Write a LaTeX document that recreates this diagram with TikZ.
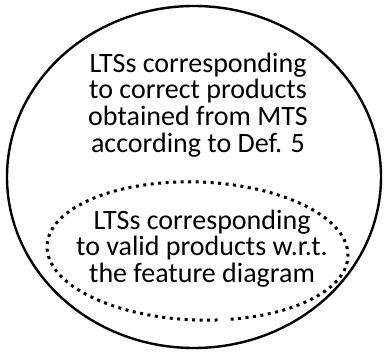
\documentclass[tikz,border=0pt]{standalone}
\usepackage{fontspec}
\setmainfont{Carlito}
\begin{document}
\begin{tikzpicture}[x=1pt,y=-1pt,
  lbl/.style={align=center,inner sep=0pt,anchor=north,font=\fontsize{28pt}{26.8pt}\selectfont},
  outerset/.style={draw=black,line width=2.4pt},
  innerset/.style={draw=black,line width=3pt,dash pattern=on 3pt off 4.5pt}]
\useasboundingbox (0,0) rectangle (386,352);
\draw[outerset] (194,177) ellipse [x radius=187, y radius=171];
\coordinate (ic) at (197.5,251);
\draw[innerset,rotate around={-2:(ic)}] (ic) ++(81.4:150.5 and 69) arc [start angle=81.4, end angle=436.7, x radius=150.5, y radius=69];
\node[lbl] (top) at (198,50) {\rule{0pt}{22pt}LTSs corresponding\\to correct products\\obtained from MTS\\according to Def. 5};
\node[lbl] (bot) at (202,207) {\rule{0pt}{22pt}LTSs corresponding\\to valid products w.r.t.\\the feature diagram};
\end{tikzpicture}
\end{document}
